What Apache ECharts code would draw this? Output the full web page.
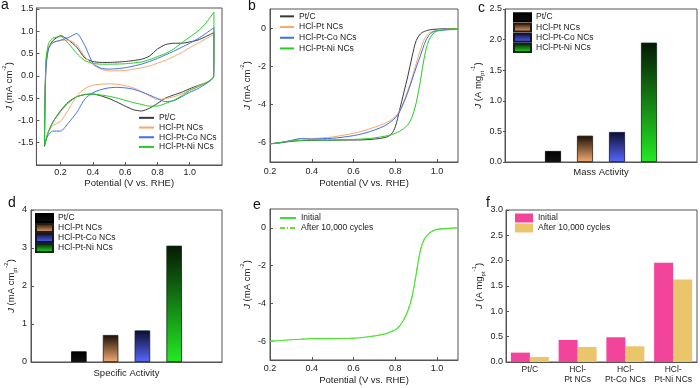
<!DOCTYPE html>
<html><head><meta charset="utf-8">
<script src="https://cdn.jsdelivr.net/npm/echarts@6/dist/echarts.min.js"></script>
<style>html,body{margin:0;padding:0;background:#fff}#c{width:700px;height:388px}</style>
</head><body><div id="c"></div>
<script>
// ---------- data ----------
const seriesNames = ['Pt/C', 'HCl-Pt NCs', 'HCl-Pt-Co NCs', 'HCl-Pt-Ni NCs'];
// (a) CV: anodic (up) and cathodic (down) sweeps
const cvUpX = [0.100, 0.103, 0.110, 0.125, 0.15, 0.20, 0.25, 0.30, 0.35, 0.40, 0.45, 0.50, 0.60, 0.70, 0.75, 0.80, 0.85, 0.90, 0.95, 1.00, 1.05, 1.10, 1.15];
const cvPtCUp = [-1.58, -0.60, 0.30, 0.62, 0.78, 0.90, 0.80, 0.64, 0.40, 0.32, 0.30, 0.30, 0.32, 0.37, 0.44, 0.60, 0.70, 0.73, 0.73, 0.76, 0.80, 0.88, 0.97];
const cvPtUp  = [-1.55, -0.50, 0.35, 0.65, 0.74, 0.79, 0.80, 0.69, 0.43, 0.25, 0.15, 0.11, 0.12, 0.18, 0.22, 0.28, 0.35, 0.43, 0.52, 0.63, 0.73, 0.83, 0.93];
const cvCoUp  = [-1.55, -0.60, 0.20, 0.60, 0.74, 0.80, 0.86, 0.95, 0.68, 0.28, 0.17, 0.15, 0.18, 0.26, 0.32, 0.39, 0.47, 0.55, 0.64, 0.73, 0.83, 0.95, 1.08];
const cvNiUp  = [-1.55, -0.50, 0.40, 0.72, 0.84, 0.88, 0.72, 0.50, 0.34, 0.28, 0.26, 0.26, 0.27, 0.31, 0.36, 0.43, 0.50, 0.60, 0.74, 0.87, 1.00, 1.18, 1.43];
const cvDownX = [1.148, 1.12, 1.10, 1.05, 1.00, 0.95, 0.90, 0.85, 0.80, 0.75, 0.70, 0.65, 0.60, 0.55, 0.50, 0.45, 0.40, 0.35, 0.30, 0.25, 0.20, 0.15, 0.12, 0.10];
const cvPtCDown = [-0.02, -0.12, -0.16, -0.22, -0.29, -0.37, -0.43, -0.50, -0.62, -0.73, -0.79, -0.76, -0.68, -0.59, -0.51, -0.45, -0.41, -0.42, -0.47, -0.58, -0.78, -1.05, -1.30, -1.58];
const cvPtDown  = [-0.02, -0.11, -0.15, -0.23, -0.32, -0.41, -0.47, -0.51, -0.53, -0.45, -0.35, -0.27, -0.22, -0.19, -0.18, -0.19, -0.21, -0.29, -0.45, -0.75, -1.02, -1.12, -1.30, -1.55];
const cvCoDown  = [-0.03, -0.13, -0.18, -0.29, -0.37, -0.47, -0.56, -0.58, -0.51, -0.43, -0.36, -0.30, -0.27, -0.26, -0.27, -0.31, -0.38, -0.52, -0.82, -1.05, -1.24, -1.24, -1.35, -1.55];
const cvNiDown  = [-0.02, -0.12, -0.16, -0.25, -0.33, -0.45, -0.55, -0.62, -0.68, -0.68, -0.64, -0.60, -0.55, -0.50, -0.46, -0.43, -0.41, -0.42, -0.47, -0.60, -0.80, -1.05, -1.30, -1.55];
// (b) LSV
const lsvX = [0.2, 0.25, 0.3, 0.35, 0.4, 0.45, 0.5, 0.55, 0.6, 0.65, 0.7, 0.75, 0.78, 0.8, 0.82, 0.84, 0.86, 0.88, 0.9, 0.92, 0.94, 0.96, 0.98, 1.0, 1.05, 1.1];
const lsvPtC = [-6.05, -6.0, -5.92, -5.88, -5.87, -5.86, -5.86, -5.85, -5.85, -5.84, -5.8, -5.72, -5.55, -5.15, -4.3, -3.4, -2.5, -1.5, -0.65, -0.3, -0.17, -0.1, -0.07, -0.05, -0.03, -0.02];
const lsvPt  = [-6.05, -5.98, -5.88, -5.78, -5.78, -5.74, -5.69, -5.6, -5.5, -5.36, -5.18, -4.98, -4.8, -4.62, -4.35, -3.85, -3.25, -2.6, -1.85, -1.15, -0.55, -0.28, -0.17, -0.12, -0.05, -0.02];
const lsvCo  = [-6.05, -5.98, -5.88, -5.78, -5.8, -5.78, -5.76, -5.7, -5.62, -5.5, -5.33, -5.1, -4.88, -4.68, -4.38, -3.9, -3.35, -2.7, -2.05, -1.45, -0.8, -0.38, -0.2, -0.14, -0.09, -0.06];
const lsvNi  = [-6.05, -5.98, -5.9, -5.87, -5.85, -5.85, -5.85, -5.84, -5.82, -5.79, -5.74, -5.65, -5.58, -5.5, -5.4, -5.25, -5.05, -4.65, -3.9, -2.75, -1.45, -0.65, -0.3, -0.15, -0.06, -0.02];
// (e) stability LSV
const stabNames = ['Initial', 'After 10,000 cycles'];
const lsvInitial = [-6.0, -5.97, -5.93, -5.9, -5.87, -5.87, -5.87, -5.86, -5.85, -5.8, -5.73, -5.62, -5.5, -5.4, -5.2, -4.88, -4.4, -3.65, -2.45, -1.2, -0.58, -0.3, -0.16, -0.08, -0.03, 0.0];
const lsvAfter   = [-6.02, -5.97, -5.92, -5.89, -5.86, -5.87, -5.86, -5.86, -5.84, -5.8, -5.72, -5.61, -5.5, -5.39, -5.19, -4.86, -4.37, -3.6, -2.4, -1.16, -0.56, -0.29, -0.15, -0.08, -0.03, 0.0];
// (c) (d) (f) bars
const massActivity = [0.18, 0.43, 0.49, 1.95];
const specificActivity = [0.28, 0.71, 0.83, 3.06];
const fCategories = ['Pt/C', 'HCl-\nPt NCs', 'HCl-\nPt-Co NCs', 'HCl-\nPt-Ni NCs'];
const fInitial = [0.185, 0.435, 0.488, 1.96];
const fAfter = [0.10, 0.297, 0.31, 1.63];
// tick labels
const cvXTicks = [0.2, 0.4, 0.6, 0.8, 1.0];
const cvYTicks = [-1.5, -1.0, -0.5, 0.0, 0.5, 1.0, 1.5];
const lsvXTicks = [0.2, 0.4, 0.6, 0.8, 1.0];
const lsvYTicks = [-6, -4, -2, 0];

// ---------- styling ----------
const FONT = 'Liberation Sans, Arial, sans-serif';
const TXT = '#222';
const AX = '#555';
const lineColors = ['#3a3a3a', '#f6a86c', '#3d6ff2', '#27cc27'];
function grad(top, bottom) {
  return {type: 'linear', x: 0, y: 0, x2: 0, y2: 1, colorStops: [{offset: 0, color: top}, {offset: 1, color: bottom}]};
}
const barFills = [grad('#000000', '#111111'), grad('#1b0f05', '#f5ab72'), grad('#0d0d2e', '#5669ff'), grad('#061806', '#23ea23')];
const barBorders = ['#000', '#2a1a0c', '#14143a', '#0a2a0a'];

const zip = (xs, ys) => xs.map((x, i) => [x, ys[i]]);
const loop = (up, down) => zip(cvUpX, up).concat(zip(cvDownX, down));

const richName = {
  i: {fontStyle: 'italic', fontSize: 9.5, fontFamily: FONT, color: TXT, lineHeight: 13, verticalAlign: 'bottom'},
  n: {fontSize: 9.5, fontFamily: FONT, color: TXT, lineHeight: 13, verticalAlign: 'bottom'},
  sup: {fontSize: 6, fontFamily: FONT, color: TXT, lineHeight: 13, verticalAlign: 'top'},
  sub: {fontSize: 6, fontFamily: FONT, color: TXT, lineHeight: 13, verticalAlign: 'bottom', padding: [0, 0, -2, 0]}
};

function grid(left, top, width, height) {
  return {left, top, width, height, show: true, borderColor: AX, borderWidth: 1, containLabel: false};
}
function valueAxis(gi, min, max, ticks, fmt, opts) {
  return Object.assign({
    type: 'value', gridIndex: gi, min, max, scale: false,
    axisLine: {show: true, onZero: false, lineStyle: {color: AX, width: 1}},
    axisTick: {show: true, inside: true, length: 3, lineStyle: {color: AX}, customValues: ticks},
    axisLabel: {customValues: ticks, formatter: fmt, fontSize: 9, fontFamily: FONT, color: TXT, margin: 3},
    splitLine: {show: false},
    nameLocation: 'middle',
    nameTextStyle: {fontSize: 9.5, fontFamily: FONT, color: TXT}
  }, opts || {});
}
const f1 = v => Number(v).toFixed(1);
const f0 = v => String(Math.round(v));

const option = {
  animation: false,
  backgroundColor: '#fff',
  textStyle: {fontFamily: FONT},
  grid: [
    grid(32, 8, 190, 157),   // a
    grid(270, 9, 188, 153),  // b
    grid(505, 9, 192, 153),  // c
    grid(31, 210, 191, 152), // d
    grid(270, 209, 188, 151),// e
    grid(506, 210, 191, 152) // f
  ],
  xAxis: [
    valueAxis(0, 0.05, 1.2, cvXTicks, f1, {name: 'Potential (V vs. RHE)', nameGap: 13}),
    valueAxis(1, 0.2, 1.1, lsvXTicks, f1, {name: 'Potential (V vs. RHE)', nameGap: 16, axisLabel: {customValues: lsvXTicks, formatter: f1, fontSize: 9, fontFamily: FONT, color: TXT, margin: 5}}),
    {type: 'category', gridIndex: 2, data: ['Mass Activity'], axisLine: {lineStyle: {color: AX}}, axisTick: {show: false},
      axisLabel: {fontSize: 9.5, fontFamily: FONT, color: TXT, margin: 5}},
    {type: 'category', gridIndex: 3, data: ['Specific Activity'], axisLine: {lineStyle: {color: AX}}, axisTick: {show: false},
      axisLabel: {fontSize: 9.5, fontFamily: FONT, color: TXT, margin: 6}},
    valueAxis(4, 0.2, 1.1, lsvXTicks, f1, {name: 'Potential (V vs. RHE)', nameGap: 15, axisLabel: {customValues: lsvXTicks, formatter: f1, fontSize: 9, fontFamily: FONT, color: TXT, margin: 4}}),
    {type: 'category', gridIndex: 5, data: fCategories, axisLine: {lineStyle: {color: AX}}, axisTick: {show: false},
      axisLabel: {fontSize: 8.5, fontFamily: FONT, color: TXT, margin: 3, lineHeight: 10, interval: 0}}
  ],
  yAxis: [
    valueAxis(0, -2.0, 1.52, cvYTicks, f1, {name: '{i|J}{n| (mA cm}{sup|-2}{n|)}', nameGap: 12, nameRotate: 90, nameTextStyle: {rich: richName}}),
    valueAxis(1, -7, 1, lsvYTicks, f0, {name: '{i|J}{n| (mA cm}{sup|-2}{n|)}', nameGap: 18, nameRotate: 90, nameTextStyle: {rich: richName}, axisLabel: {customValues: lsvYTicks, formatter: f0, fontSize: 9, fontFamily: FONT, color: TXT, margin: 4}}),
    valueAxis(2, 0, 2.5, null, f1, {interval: 0.5, name: '{i|J}{n| (A mg}{sub|pt}{sup|-1}{n|)}', nameGap: 17, nameRotate: 90, nameTextStyle: {rich: richName},
      axisTick: {show: true, inside: false, length: 2, lineStyle: {color: AX}}, axisLabel: {formatter: f1, fontSize: 9, fontFamily: FONT, color: TXT, margin: 3}}),
    valueAxis(3, 0, 4, null, f0, {interval: 1, name: '{i|J}{n| (mA cm}{sub|pt}{sup|-2}{n|)}', nameGap: 12, nameRotate: 90, nameTextStyle: {rich: richName},
      axisTick: {show: true, inside: true, length: 3, lineStyle: {color: AX}}, axisLabel: {formatter: f0, fontSize: 9, fontFamily: FONT, color: TXT, margin: 4}}),
    valueAxis(4, -7, 1, lsvYTicks, f0, {name: '{i|J}{n| (mA cm}{sup|-2}{n|)}', nameGap: 18, nameRotate: 90, nameTextStyle: {rich: richName}, axisLabel: {customValues: lsvYTicks, formatter: f0, fontSize: 9, fontFamily: FONT, color: TXT, margin: 4}}),
    valueAxis(5, 0, 3, null, f1, {interval: 0.5, name: '{i|J}{n| (A mg}{sub|pt}{sup|-1}{n|)}', nameGap: 19, nameRotate: 90, nameTextStyle: {rich: richName},
      axisTick: {show: true, inside: true, length: 3, lineStyle: {color: AX}}, axisLabel: {formatter: f1, fontSize: 9, fontFamily: FONT, color: TXT, margin: 3}})
  ],
  legend: [],
  series: [],
  graphic: []
};

const stripFmt = n => n.split('::')[1];
function legend(left, top, names, w, h, extra) {
  return Object.assign({left, top, orient: 'vertical', itemWidth: w, itemHeight: h, itemGap: 0, padding: 0,
    selectedMode: false, data: names, formatter: stripFmt,
    textStyle: {fontSize: 8.5, fontFamily: FONT, color: TXT, lineHeight: 10}}, extra || {});
}
const hideSymbol = {itemStyle: {opacity: 0}};

// (a) CV loops
const cvUps = [cvPtCUp, cvPtUp, cvCoUp, cvNiUp];
const cvDowns = [cvPtCDown, cvPtDown, cvCoDown, cvNiDown];
seriesNames.forEach((n, i) => {
  option.series.push({type: 'line', name: 'a::' + n, xAxisIndex: 0, yAxisIndex: 0, data: loop(cvUps[i], cvDowns[i]),
    symbol: 'none', smooth: 0.2, lineStyle: {color: lineColors[i], width: 1}, itemStyle: {color: lineColors[i]}});
});
option.legend.push(legend(138, 113, seriesNames.map(n => 'a::' + n), 15, 8, Object.assign({textStyle: {fontSize: 8.5, fontFamily: FONT, color: TXT, lineHeight: 9.7}}, hideSymbol)));

// (b) LSV
const lsvs = [lsvPtC, lsvPt, lsvCo, lsvNi];
seriesNames.forEach((n, i) => {
  option.series.push({type: 'line', name: 'b::' + n, xAxisIndex: 1, yAxisIndex: 1, data: zip(lsvX, lsvs[i]),
    symbol: 'none', smooth: 0.35, lineStyle: {color: lineColors[i], width: 1}, itemStyle: {color: lineColors[i]}});
});
option.legend.push(legend(279, 11, seriesNames.map(n => 'b::' + n), 14, 8, Object.assign({textStyle: {fontSize: 8.5, fontFamily: FONT, color: TXT, lineHeight: 10.7}}, hideSymbol)));

// (c) mass activity bars
seriesNames.forEach((n, i) => {
  option.series.push({type: 'bar', name: 'c::' + n, xAxisIndex: 2, yAxisIndex: 2, data: [massActivity[i]],
    barWidth: 16, barGap: '100%', itemStyle: {color: barFills[i], borderColor: barBorders[i], borderWidth: 0.8}});
});
option.legend.push(legend(513, 12, seriesNames.map(n => 'c::' + n), 17, 8, {icon: 'rect', textStyle: {fontSize: 8.5, fontFamily: FONT, color: TXT, lineHeight: 10.3}}));

// (d) specific activity bars
seriesNames.forEach((n, i) => {
  option.series.push({type: 'bar', name: 'd::' + n, xAxisIndex: 3, yAxisIndex: 3, data: [specificActivity[i]],
    barWidth: 15.5, barGap: '105%', itemStyle: {color: barFills[i], borderColor: barBorders[i], borderWidth: 0.8}});
});
option.legend.push(legend(35, 213, seriesNames.map(n => 'd::' + n), 17, 8, {icon: 'rect'}));

// (e) stability LSV
option.series.push({type: 'line', name: 'e::' + stabNames[0], xAxisIndex: 4, yAxisIndex: 4, data: zip(lsvX, lsvInitial),
  symbol: 'none', smooth: 0.35, lineStyle: {color: '#3fdc3a', width: 1.1}, itemStyle: {color: '#3fdc3a'}});
option.series.push({type: 'line', name: 'e::' + stabNames[1], xAxisIndex: 4, yAxisIndex: 4, data: zip(lsvX, lsvAfter),
  symbol: 'none', smooth: 0.35, lineStyle: {color: '#5fe62a', width: 1, type: [5, 2, 1, 2]}, itemStyle: {color: '#5fe62a'}});
option.legend.push(legend(279, 213, stabNames.map(n => 'e::' + n), 16, 8, hideSymbol));

// (f) initial vs after
option.series.push({type: 'bar', name: 'f::' + stabNames[0], xAxisIndex: 5, yAxisIndex: 5, data: fInitial,
  barWidth: 19, barGap: '0%', itemStyle: {color: '#f2449b'}});
option.series.push({type: 'bar', name: 'f::' + stabNames[1], xAxisIndex: 5, yAxisIndex: 5, data: fAfter,
  barWidth: 19, barGap: '0%', itemStyle: {color: '#ebc56c'}});
option.legend.push(legend(515, 213, stabNames.map(n => 'f::' + n), 18, 9, {icon: 'rect'}));

// panel letters
[['a', 1, -2], ['b', 248, -1], ['c', 478, 1], ['d', 8, 196], ['e', 253, 198], ['f', 486, 196]].forEach(([t, x, y]) => {
  option.graphic.push({type: 'text', left: x, top: y, style: {text: t, font: '14px ' + FONT, fill: '#111'}});
});

const chart = echarts.init(document.getElementById('c'), null, {renderer: 'canvas'});
chart.setOption(option);
</script></body></html>
